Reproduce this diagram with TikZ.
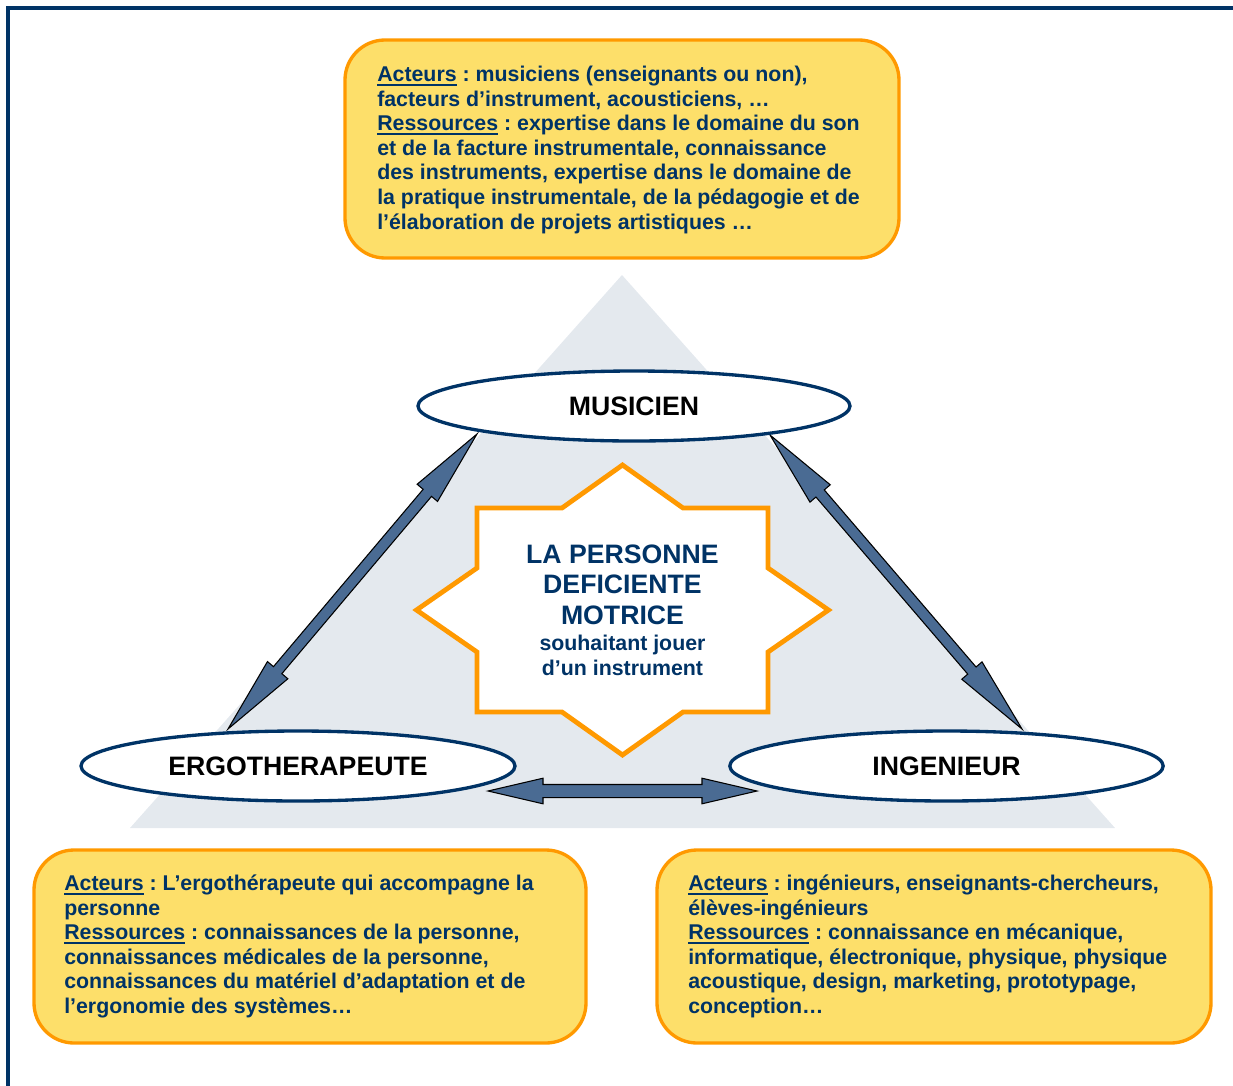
\documentclass[tikz,border=0pt]{standalone}
\usepackage{fontspec}
\setmainfont{Liberation Sans}
\usetikzlibrary{shapes.geometric,calc}
\definecolor{navy}{HTML}{003366}
\definecolor{ybfill}{HTML}{FDDF6A}
\definecolor{orng}{HTML}{FF9900}
\definecolor{trigray}{HTML}{E4E9EE}
\definecolor{arrblue}{HTML}{4A6B93}
\frenchspacing
\newsavebox\ulwordbox
\newcommand\ulword[1]{\sbox\ulwordbox{#1}\rlap{\rule[-2.9pt]{\wd\ulwordbox}{1.3pt}}\usebox\ulwordbox}
\newcommand\mkdblarrow[5]{%
\path[dblarr] (#1) -- ($(#1)!#3!(#2)!#4!90:(#2)$) -- ($(#1)!#3!(#2)!#5!90:(#2)$)
 -- ($(#2)!#3!(#1)!#5!-90:(#1)$) -- ($(#2)!#3!(#1)!#4!-90:(#1)$) -- (#2)
 -- ($(#2)!#3!(#1)!#4!90:(#1)$) -- ($(#2)!#3!(#1)!#5!90:(#1)$)
 -- ($(#1)!#3!(#2)!#5!-90:(#2)$) -- ($(#1)!#3!(#2)!#4!-90:(#2)$) -- cycle;}
\tikzset{
  ybox/.style={draw=orng, fill=ybfill, line width=2.5pt, rounded corners=30pt, inner sep=0pt},
  boxtext/.style={anchor=base west, align=left, inner sep=0pt, text=navy,
    font=\fontsize{16}{18.4}\selectfont\bfseries\frenchspacing},
  role/.style={ellipse, draw=navy, fill=white, line width=2.5pt, inner sep=0pt,
    minimum height=52.5pt, font=\fontsize{20}{24}\selectfont\bfseries, text=black},
  dblarr/.style={draw=black, fill=arrblue, line width=0.8pt, line join=miter},
}
\begin{document}
\begin{tikzpicture}[x=0.75pt,y=-0.75pt]
\useasboundingbox (0,0) rectangle (1233,1086);
% frame
\draw[navy, line width=3pt] (8,1086) -- (8,8) -- (1233,8);
% background triangle
\fill[trigray] (622,275) -- (1115,828) -- (130,828) -- cycle;
% top box
\node[ybox, minimum width=415.5pt, minimum height=163.5pt] (topbox) at (622,149) {};
\node[boxtext] (toptext) at (377,229) {\ulword{Acteurs} : musiciens (enseignants ou non),\\
facteurs d’instrument, acousticiens, …\\
\ulword{Ressources} : expertise dans le domaine du son\\
et de la facture instrumentale, connaissance\\
des instruments, expertise dans le domaine de\\
la pratique instrumentale, de la pédagogie et de\\
l’élaboration de projets artistiques …};
% arrows
\coordinate (la1) at (228,729);
\coordinate (la2) at (477,434);
\coordinate (ra1) at (770,435);
\coordinate (ra2) at (1022,729);
\coordinate (ba1) at (488,791);
\coordinate (ba2) at (757,791);
\mkdblarrow{la1}{la2}{57.75pt}{10pt}{4.1pt}
\mkdblarrow{ra1}{ra2}{57.75pt}{10pt}{4.1pt}
\mkdblarrow{ba1}{ba2}{41.25pt}{9.6pt}{4.9pt}
% role ellipses
\node[role, minimum width=324pt] (mus) at (634,406) {MUSICIEN};
\node[role, minimum width=325.5pt] (ergo) at (298,766) {ERGOTHERAPEUTE};
\node[role, minimum width=325pt] (ing) at (946.5,766) {INGENIEUR};
% star
\draw[orng, fill=white, line width=3.6pt, line join=miter]
 (622.5,465) -- (683,508) -- (768,508) -- (768,568) -- (828.5,610) -- (768,652)
 -- (768,712) -- (683,712) -- (622.5,755) -- (562,712) -- (477,712) -- (477,652)
 -- (416.5,610) -- (477,568) -- (477,508) -- (562,508) -- cycle;
\node[anchor=base, align=center, inner sep=0pt, text=navy,
  font=\fontsize{20}{23}\selectfont\bfseries] (person) at (622.5,675)
  {LA PERSONNE\\DEFICIENTE\\MOTRICE\\[-3.5pt]
   {\fontsize{16}{18.75}\selectfont souhaitant jouer}\\[-4.5pt]
   {\fontsize{16}{18.75}\selectfont d’un instrument}};
% bottom boxes
\node[ybox, minimum width=414pt, minimum height=144.75pt] (ergobox) at (310,946.5) {};
\node[boxtext] (ergotext) at (64,1013.5) {\ulword{Acteurs} : L’ergothérapeute qui accompagne la\\
personne\\
\ulword{Ressources} : connaissances de la personne,\\
connaissances médicales de la personne,\\
connaissances du matériel d’adaptation et de\\
l’ergonomie des systèmes…};
\node[ybox, minimum width=415.5pt, minimum height=144.75pt] (ingbox) at (934,946.5) {};
\node[boxtext] (ingtext) at (688,1013.5) {\ulword{Acteurs} : ingénieurs, enseignants-chercheurs,\\
élèves-ingénieurs\\
\ulword{Ressources} : connaissance en mécanique,\\
informatique, électronique, physique, physique\\
acoustique, design, marketing, prototypage,\\
conception…};
\end{tikzpicture}
\end{document}
